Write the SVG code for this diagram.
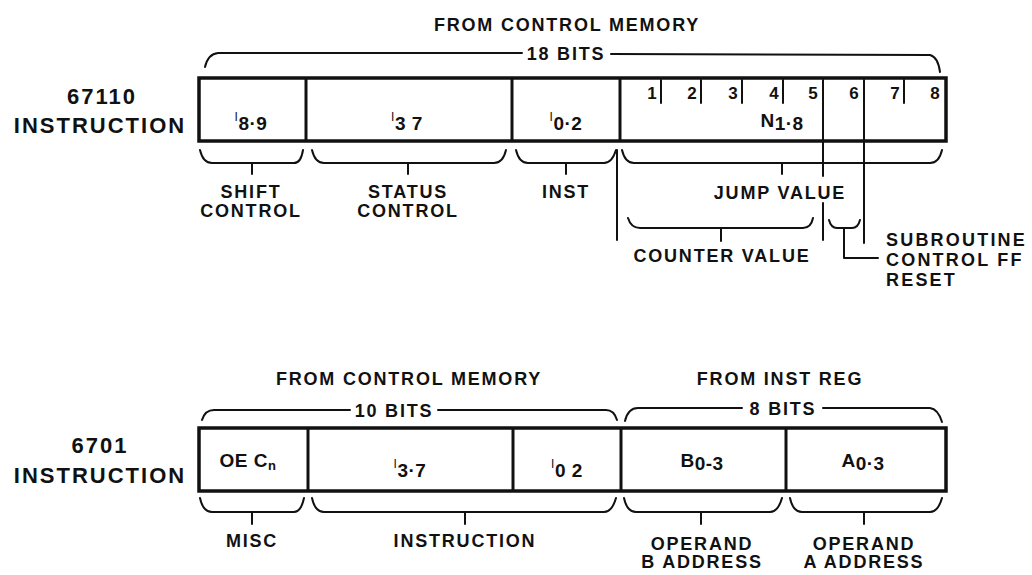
<svg xmlns="http://www.w3.org/2000/svg" width="1032" height="575" viewBox="0 0 1032 575">
<style>
text{font-family:"Liberation Sans",Arial,sans-serif;font-weight:bold;fill:#111}
.t{font-size:22px;letter-spacing:2px;text-anchor:middle}
.l{font-size:18px;letter-spacing:1.8px;text-anchor:middle}
.ls{font-size:18px;letter-spacing:2.2px}
.f{font-size:19px;text-anchor:middle;letter-spacing:0.5px}
.d{font-size:17px;text-anchor:middle}
.fi{font-size:12px;font-weight:normal}
.box{fill:#fff;stroke:#111;stroke-width:3.5}
.div{stroke:#111;stroke-width:3}
.br{fill:none;stroke:#111;stroke-width:2;stroke-linejoin:round;stroke-linecap:round}
</style>
<rect width="1032" height="575" fill="#fff"/>

<!-- Top register -->
<g id="top-header">
<text class="l" x="567" y="31">FROM CONTROL MEMORY</text>
<text class="l" x="566" y="60">18 BITS</text>
</g>
<g id="top-label">
<text class="t" x="102" y="104">67110</text>
<text class="t" x="100" y="133">INSTRUCTION</text>
</g>
<g id="top-register">
<rect class="box" x="199" y="78" width="747" height="63"/>
<line class="div" x1="306" y1="78" x2="306" y2="141"/>
<line class="div" x1="512" y1="78" x2="512" y2="141"/>
<line class="div" x1="620" y1="78" x2="620" y2="141"/>
</g>
<g id="field-i89"><text class="f" x="251" y="130"><tspan class="fi" dy="-9">I</tspan><tspan dy="9">8·9</tspan></text></g>
<g id="field-i37"><text class="f" x="407" y="130"><tspan class="fi" dy="-9">I</tspan><tspan dy="9">3 7</tspan></text></g>
<g id="field-i02"><text class="f" x="566" y="130"><tspan class="fi" dy="-9">I</tspan><tspan dy="9">0·2</tspan></text></g>
<g id="field-n18">
<text class="f" x="782" y="127">N<tspan dy="3">1·8</tspan></text>
<text class="d" x="652" y="99">1</text>
<text class="d" x="692" y="99">2</text>
<text class="d" x="733" y="99">3</text>
<text class="d" x="774" y="99">4</text>
<text class="d" x="813" y="99">5</text>
<text class="d" x="854" y="99">6</text>
<text class="d" x="895" y="99">7</text>
<text class="d" x="935" y="99">8</text>
</g>

<g id="connectors">
<!-- top 18 bits brace -->
<path class="br" d="M205,67 Q208,54 218,53 L522,53 M611,54 L930,55 Q938,57 940,72"/>
<!-- bit ticks -->
<path class="br" d="M661,80 V103 M701,80 V103 M742,80 V103 M783,80 V103 M904,80 V103"/>
<path class="br" d="M823,80 V176 M823,203 V240 M864,80 V243"/>
<!-- bottom braces top register -->
<path class="br" d="M200,150 Q203,163 212,163 L294,163 Q301,163 303,150 M252,163 V174"/>
<path class="br" d="M312,150 Q315,163 324,163 L494,163 Q503,163 506,150 M408,163 V174"/>
<path class="br" d="M516,150 Q519,163 528,163 L604,163 Q612,163 616,150 M566,163 V174"/>
<path class="br" d="M622,150 Q625,163 634,163 L930,163 Q939,163 942,150 M782,163 V174"/>
<path class="br" d="M617,150 V240"/>
<!-- counter value brace -->
<path class="br" d="M628,218 Q631,228 640,228 L803,228 Q811,228 813,218 M721,228 V241"/>
<!-- subroutine brace -->
<path class="br" d="M829,220 Q831,228 837,228 L852,228 Q858,228 860,220 M844,228 V258 H878"/>

<!-- bottom register braces -->
<path class="br" d="M202,420 Q205,410 214,410 L350,410 M438,410 L606,410 Q614,410 617,420"/>
<path class="br" d="M625,421 Q628,408 638,408 L742,408 M823,408 L930,408 Q938,409 942,422"/>
<path class="br" d="M200,498 Q203,512 212,512 L294,512 Q301,512 304,498 M252,512 V524"/>
<path class="br" d="M312,498 Q315,512 324,512 L604,512 Q612,512 616,498 M465,512 V524"/>
<path class="br" d="M624,498 Q627,512 636,512 L770,512 Q778,512 782,498 M701,512 V524"/>
<path class="br" d="M790,498 Q793,512 802,512 L930,512 Q938,512 942,498 M864,512 V524"/>
</g>

<g id="top-field-labels">
<text class="l" x="251" y="198">SHIFT</text>
<text class="l" x="251" y="217">CONTROL</text>
<text class="l" x="408" y="198">STATUS</text>
<text class="l" x="408" y="217">CONTROL</text>
<text class="l" x="566" y="198">INST</text>
<text class="l" x="780" y="199">JUMP VALUE</text>
<text class="l" x="722" y="262">COUNTER VALUE</text>
<text class="ls" x="886" y="246">SUBROUTINE</text>
<text class="ls" x="886" y="266">CONTROL FF</text>
<text class="ls" x="886" y="286">RESET</text>
</g>

<!-- Bottom register -->
<g id="bottom-header">
<text class="l" x="409" y="385">FROM CONTROL MEMORY</text>
<text class="l" x="394" y="417">10 BITS</text>
<text class="l" x="780" y="385">FROM INST REG</text>
<text class="l" x="783" y="415">8 BITS</text>
</g>
<g id="bottom-label">
<text class="t" x="100" y="453">6701</text>
<text class="t" x="100" y="483">INSTRUCTION</text>
</g>
<g id="bottom-register">
<rect class="box" x="199" y="428" width="747" height="63"/>
<line class="div" x1="308" y1="428" x2="308" y2="491"/>
<line class="div" x1="513" y1="428" x2="513" y2="491"/>
<line class="div" x1="621" y1="428" x2="621" y2="491"/>
<line class="div" x1="786" y1="428" x2="786" y2="491"/>
</g>
<g id="field-oecn"><text class="f" x="248" y="467">OE  C<tspan dy="3" font-size="13">n</tspan></text></g>
<g id="field-b-i37"><text class="f" x="410" y="477"><tspan class="fi" dy="-9">I</tspan><tspan dy="9">3·7</tspan></text></g>
<g id="field-b-i02"><text class="f" x="567" y="477"><tspan class="fi" dy="-9">I</tspan><tspan dy="9">0 2</tspan></text></g>
<g id="field-b03"><text class="f" x="702" y="467">B<tspan dy="3">0-3</tspan></text></g>
<g id="field-a03"><text class="f" x="863" y="467">A<tspan dy="3">0·3</tspan></text></g>

<g id="bottom-field-labels">
<text class="l" x="252" y="547">MISC</text>
<text class="l" x="465" y="547">INSTRUCTION</text>
<text class="l" x="702" y="550">OPERAND</text>
<text class="l" x="702" y="568">B ADDRESS</text>
<text class="l" x="864" y="550">OPERAND</text>
<text class="l" x="864" y="568">A ADDRESS</text>
</g>
</svg>
